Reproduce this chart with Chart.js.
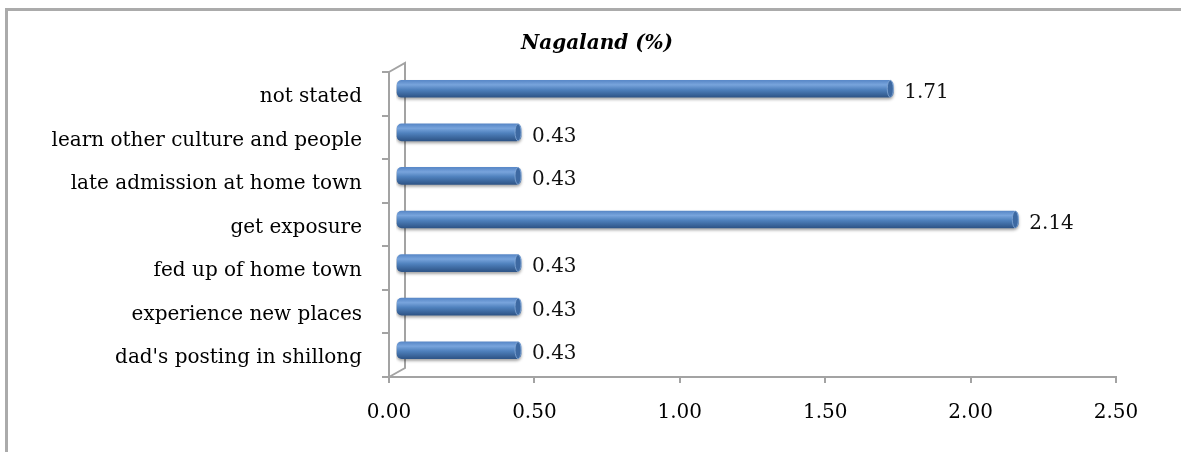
<!DOCTYPE html>
<html>
<head>
<meta charset="utf-8">
<script src="https://cdn.jsdelivr.net/npm/chart.js@4.4.1/dist/chart.umd.min.js"></script>
<style>
  html, body { margin: 0; padding: 0; background: #fff; overflow: hidden; }
  #wrap { position: relative; width: 1181px; height: 452px; overflow: hidden; }
  #frame {
    position: absolute; left: 5px; top: 8px; width: 2000px; height: 2000px;
    border-top: 3px solid #ababab; border-left: 3px solid #ababab;
  }
  #chart { position: absolute; left: 0; top: 0; }
</style>
</head>
<body>
<div id="wrap">
  <div id="frame"></div>
  <canvas id="chart" width="1181" height="452"></canvas>
</div>
<script>
/* ===========================
   DATA
=========================== */
const categories = [
  "not stated",
  "learn other culture and people",
  "late admission at home town",
  "get exposure",
  "fed up of home town",
  "experience new places",
  "dad's posting in shillong"
];
const values = [1.71, 0.43, 0.43, 2.14, 0.43, 0.43, 0.43];
const xTicks = [0, 0.5, 1, 1.5, 2, 2.5];
const chartTitle = "Nagaland (%)";

/* ===========================
   3D LOOK
=========================== */
const DEPTH_X = 16, DEPTH_Y = -9;   // back wall offset
const BAR_DX = 7, BAR_DY = -5;      // bars sit half way back
const axisCol = "#a3a3a3";
const serif = "'DejaVu Serif', serif";

function barGradient(ctx) {
  const chart = ctx.chart;
  if (!chart.chartArea) return "#4f81bd";
  const yc = chart.scales.y.getPixelForValue(ctx.dataIndex);
  const g = chart.ctx.createLinearGradient(0, yc - 8, 0, yc + 8);
  g.addColorStop(0, "#5b8ac9");
  g.addColorStop(0.25, "#78a4dc");
  g.addColorStop(0.55, "#4f81bd");
  g.addColorStop(1, "#30578a");
  return g;
}

const walls = {
  id: "walls",
  beforeDatasetsDraw(chart) {
    const { ctx, chartArea: a } = chart;
    ctx.save();
    ctx.strokeStyle = axisCol;
    ctx.lineWidth = 2;
    ctx.beginPath();
    ctx.moveTo(a.left, a.top);
    ctx.lineTo(a.left + DEPTH_X, a.top + DEPTH_Y);
    ctx.lineTo(a.left + DEPTH_X, a.bottom + DEPTH_Y);
    ctx.lineTo(a.left, a.bottom);
    ctx.stroke();
    ctx.restore();
    // shift the bars back and give them a soft shadow
    ctx.save();
    ctx.translate(BAR_DX, BAR_DY);
    ctx.shadowColor = "rgba(0,0,0,0.35)";
    ctx.shadowOffsetY = 2;
    ctx.shadowBlur = 3;
  },
  afterDatasetsDraw(chart) {
    const { ctx } = chart;
    ctx.shadowColor = "transparent";
    // end caps of the cylinders
    chart.getDatasetMeta(0).data.forEach(bar => {
      const h = bar.height / 2;
      ctx.beginPath();
      ctx.ellipse(bar.x - 3, bar.y, 3, h, 0, 0, Math.PI * 2);
      ctx.fillStyle = "#3d69a2";
      ctx.fill();
      ctx.strokeStyle = "rgba(140,175,220,0.7)";
      ctx.lineWidth = 1;
      ctx.stroke();
    });
    ctx.restore();

    // value labels
    ctx.save();
    ctx.font = "20px " + serif;
    ctx.fillStyle = "#111";
    ctx.textAlign = "left";
    ctx.textBaseline = "middle";
    chart.getDatasetMeta(0).data.forEach((bar, i) => {
      ctx.fillText(values[i].toFixed(2), bar.x + BAR_DX + 11, bar.y + BAR_DY + 4);
    });
    ctx.restore();
  },
  afterDraw(chart) {
    const { ctx } = chart;
    ctx.save();
    ctx.font = "italic bold 20px " + serif;
    ctx.fillStyle = "#000";
    ctx.textAlign = "center";
    ctx.textBaseline = "alphabetic";
    ctx.fillText(chartTitle, 597, 49);
    ctx.restore();
  }
};

/* ===========================
   CHART
=========================== */
new Chart(document.getElementById("chart"), {
  type: "bar",
  data: {
    labels: categories,
    datasets: [{
      data: values,
      backgroundColor: barGradient,
      borderWidth: 0,
      borderRadius: 5,
      borderSkipped: false,
      barThickness: 17
    }]
  },
  options: {
    indexAxis: "y",
    responsive: false,
    animation: false,
    layout: { padding: { top: 72, right: 65, bottom: 0, left: 0 } },
    plugins: { legend: { display: false }, tooltip: { enabled: false } },
    scales: {
      x: {
        min: 0,
        max: 2.5,
        afterBuildTicks: s => { s.ticks = xTicks.map(v => ({ value: v })); },
        afterFit: s => { s.height = 75; },
        ticks: {
          color: "#000",
          font: { family: serif, size: 20 },
          padding: 18,
          callback: v => Number(v).toFixed(2)
        },
        grid: { drawOnChartArea: false, tickLength: 6, color: axisCol, lineWidth: 2 },
        border: { color: axisCol, width: 2 }
      },
      y: {
        afterFit: s => { s.width = 389; },
        ticks: {
          color: "#000",
          font: { family: serif, size: 20 },
          padding: 20,
          labelOffset: 3
        },
        grid: { drawOnChartArea: false, tickLength: 7, color: axisCol, lineWidth: 2 },
        border: { color: axisCol, width: 2 }
      }
    }
  },
  plugins: [walls]
});
</script>
</body>
</html>
